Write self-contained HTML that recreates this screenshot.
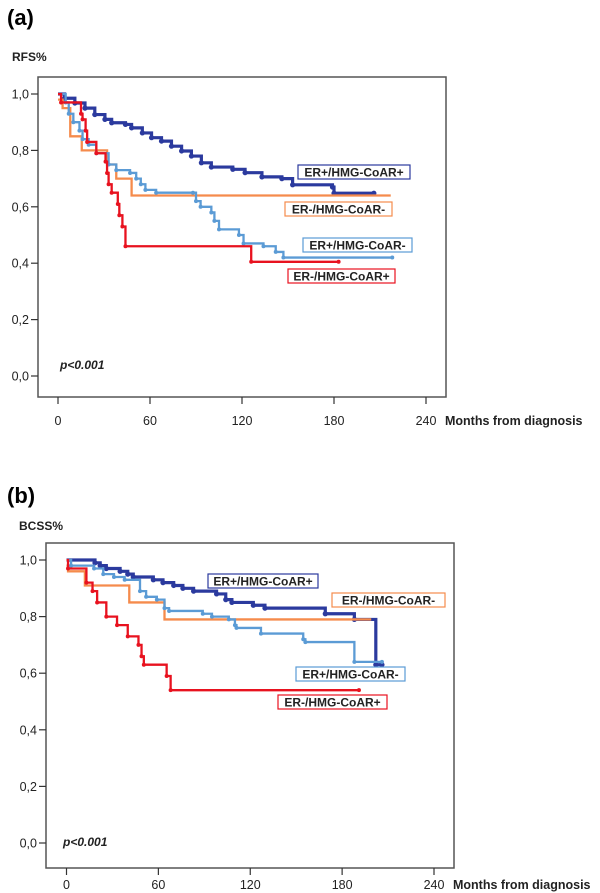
<!DOCTYPE html>
<html><head><meta charset="utf-8"><style>
body{margin:0;background:#fff;}
svg{display:block;font-family:"Liberation Sans",Arial,sans-serif;}
</style></head><body>
<svg id="c" width="600" height="893" viewBox="0 0 600 893" xmlns="http://www.w3.org/2000/svg"></svg>
<script>
// ---- data: panel (a) RFS ----
const ticksX = [0, 60, 120, 180, 240];
const ticksY = [0, 0.2, 0.4, 0.6, 0.8, 1.0];
const tickYLabels = ["0,0", "0,2", "0,4", "0,6", "0,8", "1,0"];
const seriesNames = ["ER+/HMG-CoAR+", "ER-/HMG-CoAR-", "ER+/HMG-CoAR-", "ER-/HMG-CoAR+"];
const seriesColors = ["#2b3a9e", "#f58b4c", "#5b9bd5", "#e8121f"];

const aDarkT = [0, 4.3, 11, 17.6, 24, 30.6, 35, 44, 48, 55, 61, 67.5, 74, 80.6, 87, 93.5, 100, 114, 122, 133, 146, 153, 179, 180, 206];
const aDarkS = [1.0, 0.985, 0.968, 0.95, 0.927, 0.91, 0.898, 0.892, 0.88, 0.862, 0.845, 0.833, 0.815, 0.798, 0.78, 0.756, 0.741, 0.733, 0.721, 0.706, 0.70, 0.678, 0.67, 0.648, 0.648];
const aOrT = [0, 3, 8, 15.5, 32, 38, 48, 217];
const aOrS = [0.98, 0.95, 0.85, 0.80, 0.75, 0.70, 0.64, 0.64];
const aLbT = [0, 5, 7, 10, 14, 16, 20, 25, 33, 38, 47, 51, 54, 57, 64, 88, 90, 93, 100, 102, 105, 118, 121, 134, 142, 147, 218];
const aLbS = [1.0, 0.97, 0.93, 0.90, 0.87, 0.84, 0.82, 0.79, 0.75, 0.73, 0.72, 0.70, 0.68, 0.66, 0.65, 0.65, 0.62, 0.60, 0.58, 0.55, 0.52, 0.50, 0.47, 0.46, 0.44, 0.42, 0.42];
const aRedT = [0, 2, 15, 16, 18, 19, 25, 31, 32, 33, 35, 39, 40, 42, 44, 126, 183];
const aRedS = [1.0, 0.97, 0.93, 0.91, 0.87, 0.83, 0.79, 0.76, 0.72, 0.68, 0.65, 0.61, 0.57, 0.53, 0.46, 0.405, 0.405];

// ---- data: panel (b) BCSS ----
const bDarkT = [0, 18.6, 22, 26, 35, 40, 43.6, 56.7, 63, 70, 76, 83, 98, 104, 108, 122, 129.6, 169, 188, 202, 206];
const bDarkS = [1.0, 0.99, 0.98, 0.97, 0.96, 0.95, 0.94, 0.93, 0.92, 0.91, 0.90, 0.89, 0.88, 0.86, 0.85, 0.84, 0.83, 0.81, 0.79, 0.63, 0.63];
const bOrT = [0, 1, 12, 41, 64, 199];
const bOrS = [0.98, 0.96, 0.91, 0.85, 0.79, 0.79];
const bLbT = [0, 3, 18, 24, 31, 38, 48, 52, 59, 64, 67, 89, 95, 106, 110, 111, 127, 154.6, 156, 188, 206];
const bLbS = [1.0, 0.98, 0.97, 0.95, 0.94, 0.93, 0.89, 0.87, 0.86, 0.83, 0.82, 0.81, 0.80, 0.79, 0.77, 0.76, 0.74, 0.72, 0.71, 0.64, 0.64];
const bRedT = [0, 1, 13, 17, 20, 26, 33, 40, 47, 49, 50.5, 65.4, 68, 191];
const bRedS = [1.0, 0.97, 0.92, 0.89, 0.85, 0.80, 0.77, 0.73, 0.70, 0.66, 0.63, 0.59, 0.54, 0.54];

const NS = "http://www.w3.org/2000/svg";
const svg = document.getElementById("c");
function mk(tag, attrs, parent, text) {
  const e = document.createElementNS(NS, tag);
  for (const k in attrs) e.setAttribute(k, attrs[k]);
  if (text !== undefined) e.textContent = text;
  (parent || svg).appendChild(e);
  return e;
}

function panel(cfg) {
  const g = mk("g", {});
  
  
  const sx = m => cfg.x0 + m * (cfg.x240 - cfg.x0) / 240;
  const sy = v => cfg.y0 + v * (cfg.y1 - cfg.y0);
  const t1 = mk("text", {x: 7, y: cfg.labY, "font-size": 22, "font-weight": "bold"}, g, cfg.letter);
  
  
  const t2 = mk("text", {x: cfg.ytX, y: cfg.ytY, "font-size": 12, "font-weight": "bold", fill: "#222"}, g, cfg.ytitle);
  
  
  const fr = mk("rect", {x: cfg.fl, y: cfg.ft, width: cfg.fr - cfg.fl, height: cfg.fb - cfg.ft, fill: "none", stroke: "#555", "stroke-width": 1.5}, g);
  
  
  ticksY.forEach((v, i) => {
    const y = sy(v);
    const l = mk("line", {x1: cfg.fl - 7, x2: cfg.fl, y1: y, y2: y, stroke: "#333", "stroke-width": 1.2}, g);
    
    
    const t = mk("text", {x: cfg.fl - 9, y: y + 4.5, "font-size": 12.5, "text-anchor": "end", fill: "#222"}, g, tickYLabels[i]);
    
    
  });
  ticksX.forEach(m => {
    const x = sx(m);
    const l = mk("line", {x1: x, x2: x, y1: cfg.fb, y2: cfg.fb + 7, stroke: "#333", "stroke-width": 1.2}, g);
    
    
    const t = mk("text", {x: x, y: cfg.xlY, "font-size": 12.5, "text-anchor": "middle", fill: "#222"}, g, String(m));
    
    
  });
  const xt = mk("text", {x: cfg.x240 + 19, y: cfg.xlY, "font-size": 12.5, "font-weight": "bold", fill: "#222"}, g, "Months from diagnosis");
  
  
  const pv = mk("text", {x: cfg.pX, y: cfg.pY, "font-size": 12, "font-weight": "bold", "font-style": "italic", fill: "#222"}, g, "p<0.001");
  
  
  cfg.series.forEach((s, i) => {
    let d = "M" + sx(s.t[0]) + "," + sy(s.s[0]);
    for (let k = 1; k < s.t.length; k++) {
      d += " H" + sx(s.t[k]) + " V" + sy(s.s[k]);
    }
    const p = mk("path", {d: d, fill: "none", stroke: seriesColors[i], "stroke-width": i === 0 ? 3.2 : 2.3}, g);
    
    
    for (let k = 1; k < s.t.length; k++) {
      if (i === 1) continue;
      const c = mk("circle", {cx: sx(s.t[k]), cy: sy(s.s[k]), r: i === 0 ? 2.6 : 2, fill: seriesColors[i]}, g);
      
      
    }
    const lb = cfg.labels[i];
    const r = mk("rect", {x: lb[0], y: lb[1], width: lb[2], height: 14, fill: "#fff", stroke: seriesColors[i], "stroke-width": 1.2}, g);
    
    
    const t = mk("text", {x: lb[0] + lb[2] / 2, y: lb[1] + 11.5, "font-size": 12, "font-weight": "bold", "text-anchor": "middle", fill: "#222"}, g, seriesNames[i]);
    
    
  });
}

panel({name: "panel-a-rfs", letter: "(a)", labY: 25, ytitle: "RFS%", ytX: 12, ytY: 61,
  fl: 38, ft: 77, fr: 446, fb: 397, x0: 58, x240: 426, y0: 376, y1: 94,
  xlY: 425, pX: 60, pY: 369,
  series: [{t: aDarkT, s: aDarkS}, {t: aOrT, s: aOrS}, {t: aLbT, s: aLbS}, {t: aRedT, s: aRedS}],
  labels: [[298, 165, 112], [285, 202, 107], [303, 238, 109], [288, 269, 107]]});

panel({name: "panel-b-bcss", letter: "(b)", labY: 503, ytitle: "BCSS%", ytX: 19, ytY: 530,
  fl: 46, ft: 543, fr: 454, fb: 868, x0: 66.5, x240: 434, y0: 843, y1: 560,
  xlY: 889, pX: 63, pY: 846,
  series: [{t: bDarkT, s: bDarkS}, {t: bOrT, s: bOrS}, {t: bLbT, s: bLbS}, {t: bRedT, s: bRedS}],
  labels: [[208, 574, 110], [332, 593, 113], [296, 667, 109], [278, 695, 109]]});
</script>
</body></html>
